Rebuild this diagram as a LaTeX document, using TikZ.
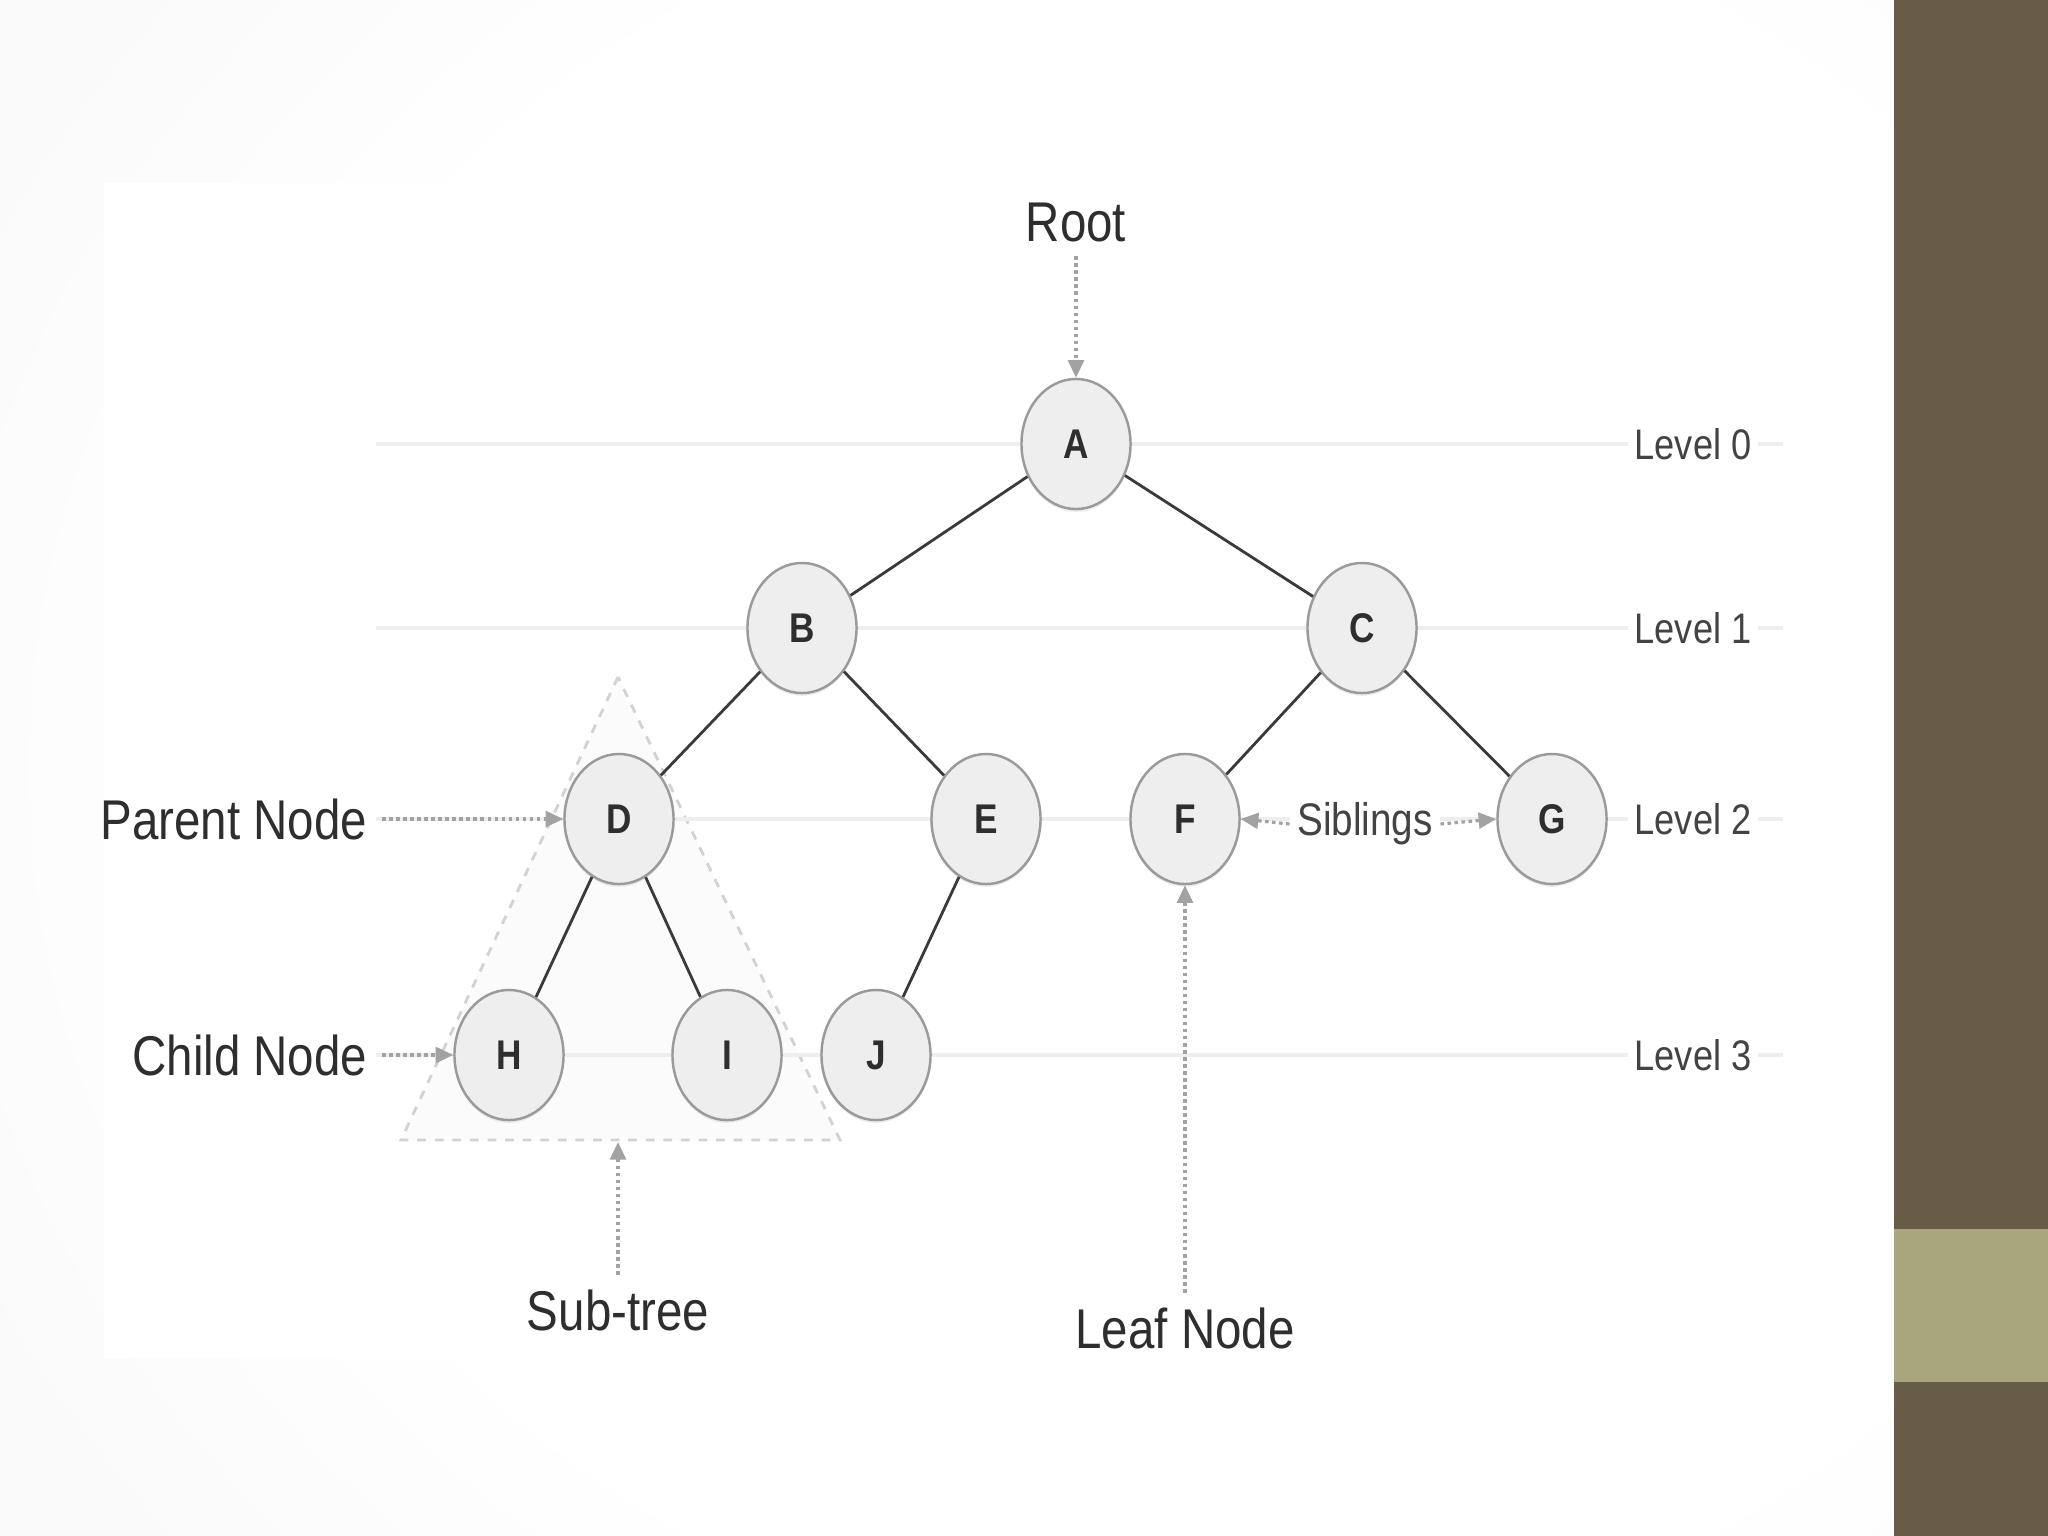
\documentclass[tikz,border=0pt]{standalone}
\usepackage{fontspec}
\usepackage{graphicx}
\setmainfont{Liberation Sans}
\usetikzlibrary{shapes.geometric,arrows.meta,shadows}
\definecolor{slidebar}{HTML}{675D46}
\definecolor{slideband}{HTML}{A8A67C}
\definecolor{nodeborder}{HTML}{9A9A9A}
\definecolor{nodefill}{HTML}{EEEEEE}
\definecolor{edgedark}{HTML}{3A3A3A}
\definecolor{textdark}{HTML}{2E2E2E}
\definecolor{arrowgray}{HTML}{A2A2A2}
\definecolor{levelline}{HTML}{EEEEEE}
\definecolor{tridash}{HTML}{D2D2D2}
\definecolor{trifill}{HTML}{FBFBFB}
\pgfdeclareradialshading{vignette}{\pgfpoint{0bp}{0bp}}{color(0bp)=(white); color(20bp)=(white); color(38bp)=(black!4); color(50bp)=(black!10); color(70bp)=(black!16); color(90bp)=(black!18)}
\newcommand{\vs}[1]{\scalebox{1}[1.18]{#1}}
\tikzset{
  treenode/.style={ellipse, draw=nodeborder, line width=0.7pt, fill=nodefill,
    minimum width=1.09cm, minimum height=1.30cm, inner sep=0pt,
    font=\fontsize{10}{12}\selectfont\bfseries, text=textdark,
    drop shadow={shadow xshift=0pt, shadow yshift=-0.8pt, opacity=0.15}},
  biglabel/.style={inner sep=4pt, font=\fontsize{13.5}{16}\selectfont, text=textdark},
  levellabel/.style={inner sep=2pt, fill=white, font=\fontsize{10.3}{12}\selectfont, text=textdark!90},
  siblabel/.style={inner sep=2pt, fill=white, font=\fontsize{11}{13}\selectfont, text=textdark!90},
  treeedge/.style={draw=edgedark, line width=0.8pt},
  dotarrow/.style={draw=arrowgray, line width=0.9pt, dash pattern=on 1pt off 1pt,
    -{Triangle[length=5pt,width=4.5pt]}},
  lvline/.style={draw=levelline, line width=1.2pt},
  subtreebox/.style={draw=tridash, fill=trifill, line width=0.8pt, dash pattern=on 2.5pt off 2.5pt}
}
\begin{document}
\begin{tikzpicture}[x=0.01cm,y=-0.01cm]
\useasboundingbox (0,0) rectangle (2048,1536);
% background
\begin{scope}
  \clip (0,0) rectangle (1894,1536);
  \shade[shading=vignette] (0,-300) rectangle (2400,1836);
\end{scope}
\fill[white] (104,183) rectangle (1894,1358);
\fill[slidebar] (1894,0) rectangle (2048,1536);
\fill[slideband] (1894,1229) rectangle (2048,1382);
% sub-tree triangle
\draw[subtreebox] (618,677) -- (401,1140) -- (840,1140) -- cycle;
\coordinate (tribase) at (618,1142);
% level lines
\foreach \ly in {444,628,819,1055}{
  \draw[lvline] (376,\ly) -- (1783,\ly);
}
% nodes
\node[treenode] (A) at (1076,444) {\vs{A}};
\node[treenode] (B) at (802,628) {\vs{B}};
\node[treenode] (C) at (1362,628) {\vs{C}};
\node[treenode] (D) at (619,819) {\vs{D}};
\node[treenode] (E) at (986,819) {\vs{E}};
\node[treenode] (F) at (1185,819) {\vs{F}};
\node[treenode] (G) at (1552,819) {\vs{G}};
\node[treenode] (H) at (509,1055) {\vs{H}};
\node[treenode] (I) at (727,1055) {\vs{I}};
\node[treenode] (J) at (876,1055) {\vs{J}};
% edges
\draw[treeedge] (A) -- (B);
\draw[treeedge] (A) -- (C);
\draw[treeedge] (B) -- (D);
\draw[treeedge] (B) -- (E);
\draw[treeedge] (C) -- (F);
\draw[treeedge] (C) -- (G);
\draw[treeedge] (D) -- (H);
\draw[treeedge] (D) -- (I);
\draw[treeedge] (E) -- (J);
% level labels
\node[levellabel] (L0) at (1693,444) {\vs{Level 0}};
\node[levellabel] (L1) at (1693,628) {\vs{Level 1}};
\node[levellabel] (L2) at (1693,819) {\vs{Level 2}};
\node[levellabel] (L3) at (1693,1055) {\vs{Level 3}};
% annotation labels
\node[biglabel] (root) at (1076,222) {\vs{Root}};
\node[biglabel, anchor=east] (parent) at (382,819) {\vs{Parent Node}};
\node[biglabel, anchor=east] (child) at (382,1055) {\vs{Child Node}};
\node[biglabel] (subtree) at (618,1310) {\vs{Sub-tree}};
\node[biglabel] (leaf) at (1185,1328) {\vs{Leaf Node}};
\node[siblabel] (sib) at (1365,824) {\vs{Siblings}};
% annotation arrows
\draw[dotarrow] (root.south) -- (A.north);
\draw[dotarrow] (parent.east) -- (D.west);
\draw[dotarrow] (child.east) -- (H.west);
\draw[dotarrow] (subtree.north) -- (tribase);
\draw[dotarrow] (leaf.north) -- (F.south);
\draw[dotarrow] (sib.west) -- (F.east);
\draw[dotarrow] (sib.east) -- (G.west);
\end{tikzpicture}
\end{document}
